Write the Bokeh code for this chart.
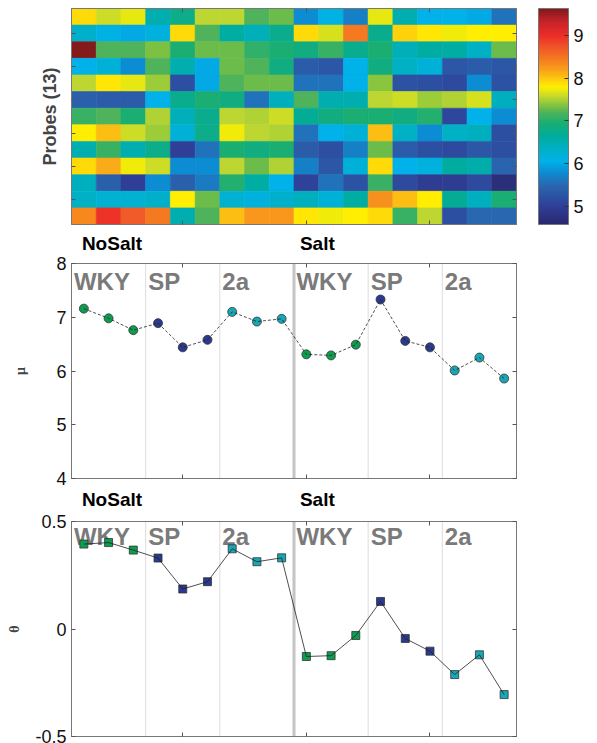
import numpy as np
from bokeh.plotting import figure
from bokeh.models import (Range1d, LinearColorMapper, ColorBar, FixedTicker,
                          LinearAxis, Span, ColumnDataSource)
from bokeh.layouts import column
from bokeh.transform import transform
from bokeh.embed import file_html
from bokeh.resources import INLINE
from bokeh.core.properties import value

# ---------------- data ----------------
samples = list(range(1, 19))
probes = list(range(1, 14))
groups = ["WKY", "SP", "2a", "WKY", "SP", "2a"]
group_starts = [0.5, 3.5, 6.5, 9.5, 12.5, 15.5]
conditions = ["NoSalt", "Salt"]
condition_starts = [0.5, 9.5]
sample_group = ["WKY"] * 3 + ["SP"] * 3 + ["2a"] * 3 + ["WKY"] * 3 + ["SP"] * 3 + ["2a"] * 3

expr = [
    [7.9, 7.6, 7.7, 6.5, 6.8, 7.55, 7.55, 7.2, 7.3, 5.8, 6.1, 5.7, 7.7, 6.5, 6.05, 6.05, 6.0, 5.6],
    [6.3, 6.1, 6.0, 6.15, 7.9, 7.2, 6.6, 6.45, 6.75, 7.9, 7.65, 8.45, 6.75, 7.95, 7.85, 7.75, 7.8, 7.8],
    [9.6, 7.2, 7.2, 7.35, 6.95, 7.3, 7.3, 7.05, 6.95, 6.85, 7.1, 6.75, 6.95, 6.45, 6.6, 6.6, 6.35, 7.3],
    [6.05, 6.2, 5.8, 7.2, 6.5, 6.0, 7.3, 7.2, 6.85, 5.35, 5.3, 6.05, 6.85, 6.35, 6.2, 5.3, 5.35, 5.3],
    [7.55, 7.85, 7.7, 7.45, 5.2, 6.0, 7.2, 7.3, 7.3, 5.6, 5.6, 6.05, 7.4, 5.25, 5.2, 5.15, 5.8, 5.25],
    [5.4, 5.35, 5.35, 6.05, 6.75, 6.95, 6.85, 5.6, 6.4, 7.2, 6.5, 6.5, 7.55, 7.6, 7.45, 7.5, 7.65, 6.4],
    [7.1, 7.2, 6.95, 7.5, 6.45, 6.75, 7.55, 7.5, 7.6, 6.7, 6.85, 6.95, 6.95, 6.85, 7.0, 5.1, 6.05, 5.8],
    [7.8, 8.05, 7.6, 7.45, 6.2, 6.8, 7.75, 7.55, 7.5, 5.6, 6.05, 6.2, 8.05, 6.35, 5.8, 6.35, 6.4, 5.2],
    [6.5, 7.1, 6.5, 6.8, 5.0, 5.6, 6.95, 6.85, 6.95, 5.35, 5.2, 5.7, 7.3, 5.35, 5.2, 5.15, 5.3, 5.2],
    [7.9, 8.15, 7.75, 7.6, 5.8, 5.8, 7.55, 7.3, 7.5, 5.7, 5.3, 6.2, 7.9, 6.05, 6.15, 6.65, 6.55, 5.45],
    [6.4, 5.4, 5.0, 5.8, 5.4, 5.65, 7.0, 6.6, 6.05, 5.05, 5.6, 5.25, 7.1, 5.15, 4.95, 4.95, 5.15, 4.7],
    [6.35, 6.25, 6.25, 6.3, 7.8, 7.3, 6.25, 6.15, 6.3, 6.4, 6.2, 6.6, 8.3, 8.05, 7.8, 6.7, 6.4, 6.95],
    [8.35, 8.95, 8.7, 8.45, 6.5, 7.2, 8.05, 8.25, 8.25, 7.85, 7.75, 7.8, 7.9, 7.1, 7.55, 5.2, 5.5, 5.5],
]

mu = [7.16, 6.98, 6.76, 6.89, 6.44, 6.58, 7.10, 6.92, 6.97,
      6.31, 6.29, 6.49, 7.33, 6.56, 6.44, 6.01, 6.25, 5.86]
theta = [0.395, 0.402, 0.367, 0.330, 0.186, 0.220, 0.373, 0.313, 0.331,
         -0.128, -0.124, -0.030, 0.128, -0.044, -0.103, -0.212, -0.120, -0.305]

color_low, color_high = 4.58, 9.63

# ---------------- styles ----------------
SANS = "Liberation Sans"
SERIF = "Liberation Serif"
group_colors = {"WKY": "#0c9e50", "SP": "#2b3a8f", "2a": "#16a8b6"}
AX = "#777777"

stops = [(4.58, "#29286f"), (5.0, "#2f3f97"), (5.5, "#2968b1"), (5.8, "#0b8ed3"),
         (6.05, "#00b2ea"), (6.35, "#00b0c4"), (6.65, "#00ac9c"), (6.95, "#19ae73"),
         (7.2, "#4fb35a"), (7.35, "#7cc142"), (7.55, "#bdd631"), (7.8, "#fff000"),
         (8.0, "#fdc70f"), (8.2, "#f9a01b"), (8.45, "#f47b20"), (8.7, "#f15a29"),
         (9.0, "#ec2d27"), (9.35, "#c4222a"), (9.63, "#7e1a1c")]


def hex2rgb(h):
    return [int(h[i:i + 2], 16) for i in (1, 3, 5)]


sv = np.array([s[0] for s in stops])
sc = np.array([hex2rgb(s[1]) for s in stops], dtype=float)
vals = np.linspace(color_low, color_high, 256)
palette = []
for v in vals:
    rgb = [np.interp(v, sv, sc[:, k]) for k in range(3)]
    palette.append("#%02x%02x%02x" % tuple(int(round(c)) for c in rgb))

LEFT, FRAME_W, RIGHT = 71, 445, 72
W = LEFT + FRAME_W + RIGHT


def style_axis(ax, ticks, labels=False):
    ax.ticker = FixedTicker(ticks=ticks)
    ax.major_tick_in = 4
    ax.major_tick_out = 0
    ax.minor_tick_line_color = None
    ax.axis_line_color = AX
    ax.major_tick_line_color = "#555555"
    if labels:
        ax.major_label_text_font = SANS
        ax.major_label_text_font_size = "18px"
        ax.major_label_text_color = "#111111"
        ax.major_label_standoff = 5
    else:
        ax.major_label_text_font_size = "0px"
        ax.major_label_text_color = None
        ax.major_label_standoff = 0


def add_frame_axes(p, xticks, yticks):
    top = LinearAxis()
    style_axis(top, xticks)
    p.add_layout(top, "above")
    right = LinearAxis()
    style_axis(right, yticks)
    p.add_layout(right, "right")


# ---------------- heatmap ----------------
xs, ys, vs = [], [], []
for i, row in enumerate(expr):
    for j, v in enumerate(row):
        xs.append(samples[j])
        ys.append(probes[i])
        vs.append(v)
hsrc = ColumnDataSource(dict(x=xs, y=ys, v=vs))
mapper = LinearColorMapper(palette=palette, low=color_low, high=color_high)

p1 = figure(width=W, height=230, x_range=Range1d(0.5, 18.5), y_range=Range1d(13.5, 0.5),
            output_backend="svg", toolbar_location=None,
            min_border_left=LEFT, min_border_right=RIGHT, min_border_top=8, min_border_bottom=6)
p1.rect(x="x", y="y", width=1, height=1, source=hsrc,
        fill_color=transform("v", mapper), line_color=transform("v", mapper), line_width=0.6)
p1.grid.visible = False
p1.outline_line_color = AX
style_axis(p1.xaxis[0], [5, 10, 15])
style_axis(p1.yaxis[0], [2, 4, 6, 8, 10, 12])
p1.yaxis.axis_label = "Probes (13)"
p1.yaxis.axis_label_text_font = SANS
p1.yaxis.axis_label_text_font_style = "bold"
p1.yaxis.axis_label_text_font_size = "18px"
p1.yaxis.axis_label_standoff = 12
add_frame_axes(p1, [5, 10, 15], [2, 4, 6, 8, 10, 12])
cb = ColorBar(color_mapper=mapper, ticker=FixedTicker(ticks=[5, 6, 7, 8, 9]),
              width=30, height=216, padding=0, margin=0, location=(22, 0),
              major_label_text_font=SANS, major_label_text_font_size="18px",
              major_label_text_color="#111111", label_standoff=5,
              bar_line_color=AX, major_tick_line_color="#333333",
              major_tick_in=4, major_tick_out=0, background_fill_alpha=0)
p1.add_layout(cb, "right")

BASE_FIX = 7  # pixels by which the rendered alphabetic baseline sits lower


# ---------------- condition headers ----------------
def header(height, baseline_from_top):
    h = figure(width=W, height=height, x_range=Range1d(0.5, 18.5), y_range=Range1d(0, 1),
               output_backend="svg", toolbar_location=None,
               x_axis_location=None, y_axis_location=None,
               min_border_left=LEFT, min_border_right=RIGHT, min_border_top=0, min_border_bottom=0)
    h.grid.visible = False
    h.outline_line_color = None
    offs = [0.42, 0.24]
    h.text(x=[cs + o for cs, o in zip(condition_starts, offs)],
           y=[1 - (baseline_from_top - BASE_FIX) / height] * len(conditions), text=conditions,
           text_font=value(SANS), text_font_style="bold", text_font_size="19px",
           text_color="#000000", text_baseline="alphabetic", text_align="left")
    return h


# ---------------- line plots ----------------
def line_plot(yvals, ystart, yend, yticks, marker, dash, height, btop, bbottom, ylabel, label_standoff,
              group_baseline, overrides=None):
    p = figure(width=W, height=height, x_range=Range1d(0.5, 18.5), y_range=Range1d(ystart, yend),
               output_backend="svg", toolbar_location=None,
               min_border_left=LEFT, min_border_right=RIGHT, min_border_top=btop,
               min_border_bottom=bbottom)
    p.grid.visible = False
    p.outline_line_color = AX
    style_axis(p.xaxis[0], [5, 10, 15])
    style_axis(p.yaxis[0], yticks, labels=True)
    if overrides:
        p.yaxis[0].major_label_overrides = overrides
    p.yaxis.axis_label = ylabel
    p.yaxis.axis_label_text_font = SERIF
    p.yaxis.axis_label_text_font_style = "bold"
    p.yaxis.axis_label_text_font_size = "14px"
    p.yaxis.axis_label_standoff = label_standoff
    add_frame_axes(p, [5, 10, 15], yticks)

    frame_h = height - btop - bbottom
    per_px = (yend - ystart) / frame_h

    for s in group_starts:
        if s <= 0.5:
            continue
        if s == condition_starts[1]:
            p.add_layout(Span(location=s, dimension="height", line_color="#c4c4c4",
                              line_width=3, level="underlay"))
        else:
            p.add_layout(Span(location=s, dimension="height", line_color="#dcdcdc",
                              line_width=1, level="underlay"))

    p.text(x=[s + 0.1 for s in group_starts],
           y=[yend - (group_baseline - BASE_FIX) * per_px] * len(groups), text=groups,
           text_font=value(SANS), text_font_style="bold", text_font_size="24px",
           text_color="#7a7a7a", text_baseline="alphabetic", text_align="left")

    src = ColumnDataSource(dict(x=samples, y=yvals, c=[group_colors[g] for g in sample_group]))
    p.scatter(x="x", y="y", source=src, marker=marker, size=9 if marker == "circle" else 8,
              fill_color="c", line_color="#333333", line_width=0.8)
    p.line(x="x", y="y", source=src, line_color="#222222", line_width=0.8, line_dash=dash)
    return p


h2 = header(23, 20)
p2 = line_plot(mu, 4, 8, [4, 5, 6, 7, 8], "circle", "3 2", 237, 10, 12, "μ", 25, 25)
h3 = header(21, 16)
p3 = line_plot(theta, -0.5, 0.5, [-0.5, 0, 0.5], "square", "solid", 232, 10, 7, "θ", 10, 22,
               overrides={-0.5: "-0.5", 0: "0", 0.5: "0.5"})

layout = column(p1, h2, p2, h3, p3)
open("out.html", "w").write(file_html(layout, INLINE))
